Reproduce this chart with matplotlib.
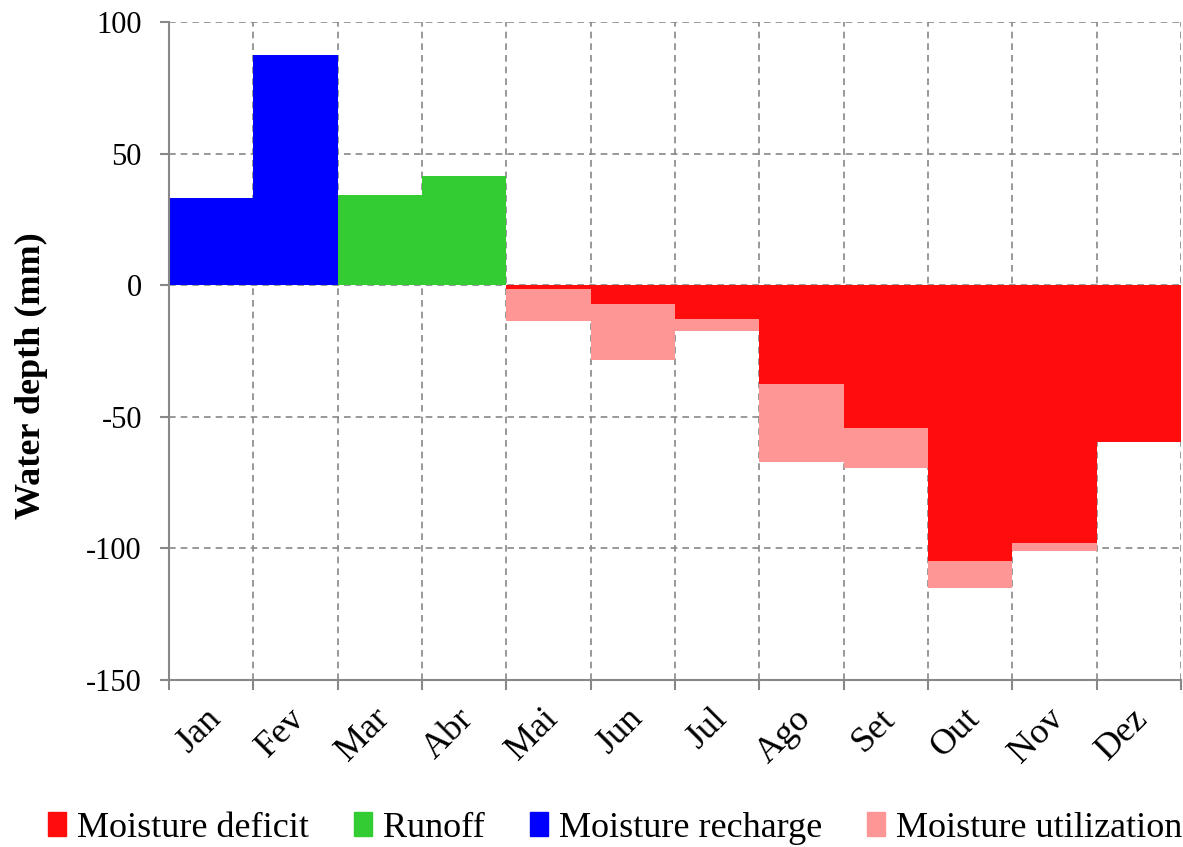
import matplotlib
matplotlib.use("Agg")
import matplotlib.pyplot as plt
import numpy as np
from matplotlib.patches import Patch
import matplotlib.transforms as mtrans

months = ["Jan", "Fev", "Mar", "Abr", "Mai", "Jun", "Jul", "Ago", "Set", "Out", "Nov", "Dez"]
recharge = [33.2, 87.4, 0, 0, 0, 0, 0, 0, 0, 0, 0, 0]
runoff = [0, 0, 34.2, 41.4, 0, 0, 0, 0, 0, 0, 0, 0]
deficit = [0, 0, 0, 0, 1.5, 7.2, 13.0, 37.7, 54.4, 104.8, 98.0, 59.5]
utilization = [0, 0, 0, 0, 12.2, 21.3, 4.4, 29.5, 15.2, 10.3, 2.9, 0]

c_def = "#FF0D0D"
c_run = "#33CC33"
c_rec = "#0000FF"
c_uti = "#FF9696"

plt.rcParams['font.family'] = ['Liberation Serif', 'DejaVu Serif']
plt.rcParams['axes.unicode_minus'] = False

fig = plt.figure(figsize=(11.83, 8.47), dpi=100)
ax = fig.add_axes([169/1183, 1-680/847, (1181-169)/1183, (680-22)/847])

x = np.arange(len(months))
d = -np.array(deficit)
u = -np.array(utilization)
ax.bar(x, recharge, width=1.0, color=c_rec, zorder=2)
ax.bar(x, runoff, width=1.0, color=c_run, zorder=2)
ax.bar(x, d, width=1.0, color=c_def, zorder=2)
ax.bar(x, u, width=1.0, bottom=d, color=c_uti, zorder=2)

ax.set_xlim(-0.5, 11.5)
ax.set_ylim(-150, 100)
ax.set_yticks(np.arange(-150, 101, 50))
ax.set_xticks(x)
ax.set_xticklabels(months, rotation=45, ha='right', va='top', rotation_mode='anchor', fontsize=26)
ax.set_xticks(np.arange(-0.5, 12, 1), minor=True)
ax.tick_params(axis='x', which='major', length=0, pad=16)
ax.tick_params(axis='x', which='minor', length=7.5, color='#888888', width=1.5)
ax.tick_params(axis='y', length=6.5, color='#888888', width=1.5, labelsize=22, pad=13)
for lab in ax.get_xticklabels():
    lab.set_transform(lab.get_transform() + mtrans.ScaledTranslation(-0.07, 0, fig.dpi_scale_trans))

ax.grid(True, axis='y', which='major', linestyle=(0, (4, 3)), color='#888888', linewidth=1.2, zorder=1)
ax.grid(True, axis='x', which='minor', linestyle=(0, (4, 3)), color='#888888', linewidth=1.2, zorder=1)
ax.set_axisbelow(True)

for s in ['top', 'right']:
    ax.spines[s].set_visible(False)
for s in ['left', 'bottom']:
    ax.spines[s].set_color('#888888')
    ax.spines[s].set_linewidth(1.5)
    ax.spines[s].set_zorder(3)

fig.text(31/1183, 1-376/847, "Water depth (mm)", rotation=90, ha='center', va='center',
         fontsize=26, fontweight='bold')

handles = [Patch(color=c_def, label="Moisture deficit"),
           Patch(color=c_run, label="Runoff"),
           Patch(color=c_rec, label="Moisture recharge"),
           Patch(color=c_uti, label="Moisture utilization")]
fig.legend(handles=handles, loc='center', bbox_to_anchor=(615/1183, 1-828/847), ncol=4,
           frameon=False, fontsize=26, handlelength=0.5, handleheight=0.65,
           handletextpad=0.3, columnspacing=1.25, borderpad=0.1)

fig.savefig("out.png", dpi=100)
